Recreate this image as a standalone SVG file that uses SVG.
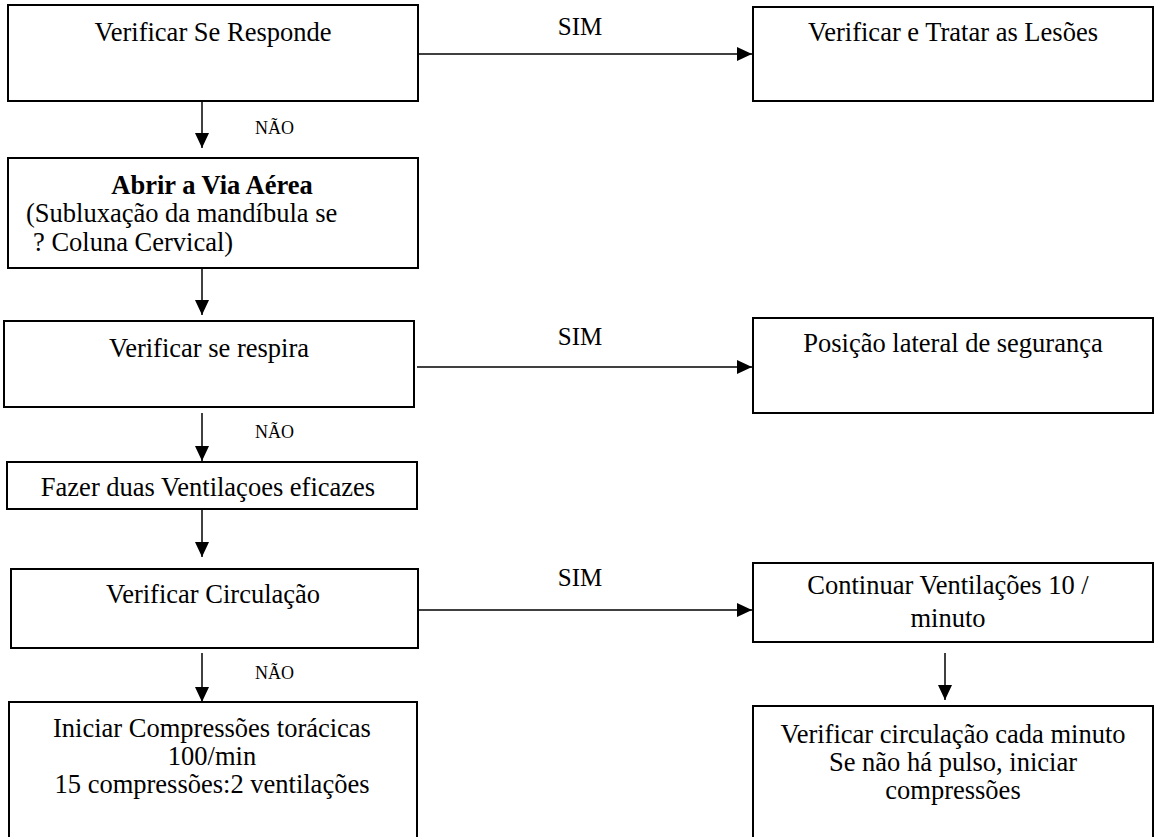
<svg xmlns="http://www.w3.org/2000/svg" width="1156" height="837" viewBox="0 0 1156 837">
<style>
  .box { fill: #ffffff; stroke: #000000; stroke-width: 2; }
  .t { font-family: "Liberation Serif", "Times New Roman", serif; font-size: 26.5px; fill: #000000; }
  .c { text-anchor: middle; }
  .b { font-weight: bold; }
  .lbl { font-family: "Liberation Serif", "Times New Roman", serif; font-size: 25px; fill: #000000; text-anchor: middle; }
  .no { font-family: "Liberation Serif", "Times New Roman", serif; font-size: 18px; fill: #000000; }
  .conn { stroke: #000000; stroke-width: 1.5; fill: none; marker-end: url(#arrow); }
</style>
<defs>
  <marker id="arrow" markerUnits="userSpaceOnUse" markerWidth="16" markerHeight="15" refX="15" refY="7" orient="auto">
    <path d="M0,0 L15,7 L0,14 z" fill="#000000"/>
  </marker>
</defs>
<rect x="0" y="0" width="1156" height="837" fill="#ffffff"/>

<g id="connectors">
  <line class="conn" x1="418" y1="54" x2="752" y2="54"/>
  <line class="conn" x1="202" y1="101" x2="202" y2="148"/>
  <line class="conn" x1="202" y1="268" x2="202" y2="315"/>
  <line class="conn" x1="417" y1="367" x2="752" y2="367"/>
  <line class="conn" x1="202" y1="413" x2="202" y2="461"/>
  <line class="conn" x1="202" y1="509" x2="202" y2="557"/>
  <line class="conn" x1="418" y1="610" x2="752" y2="610"/>
  <line class="conn" x1="202" y1="653" x2="202" y2="702"/>
  <line class="conn" x1="945" y1="653" x2="945" y2="700"/>
  <text class="lbl" x="580" y="35">SIM</text>
  <text class="lbl" x="580" y="345">SIM</text>
  <text class="lbl" x="580" y="586">SIM</text>
  <text class="no" x="255" y="134">NÃO</text>
  <text class="no" x="255" y="438">NÃO</text>
  <text class="no" x="255" y="679">NÃO</text>
</g>

<g id="node-responde">
  <rect class="box" x="8" y="5" width="410" height="96"/>
  <text class="t c" x="213" y="41">Verificar Se Responde</text>
</g>
<g id="node-lesoes">
  <rect class="box" x="753" y="7" width="400" height="94"/>
  <text class="t c" x="953" y="41">Verificar e Tratar as Lesões</text>
</g>
<g id="node-via-aerea">
  <rect class="box" x="8" y="158" width="410" height="110"/>
  <text class="t c b" x="212" y="194">Abrir a Via Aérea</text>
  <text class="t" x="26" y="222">(Subluxação da mandíbula se</text>
  <text class="t" x="33" y="251">? Coluna Cervical)</text>
</g>
<g id="node-respira">
  <rect class="box" x="4" y="321" width="410" height="86"/>
  <text class="t c" x="209" y="357">Verificar se respira</text>
</g>
<g id="node-lateral">
  <rect class="box" x="753" y="318" width="400" height="95"/>
  <text class="t c" x="953" y="352">Posição lateral de segurança</text>
</g>
<g id="node-ventilacoes">
  <rect class="box" x="7" y="462" width="410" height="47"/>
  <text class="t c" x="208" y="496">Fazer duas Ventilaçoes eficazes</text>
</g>
<g id="node-circulacao">
  <rect class="box" x="11" y="569" width="407" height="79"/>
  <text class="t c" x="213" y="603">Verificar Circulação</text>
</g>
<g id="node-continuar">
  <rect class="box" x="753" y="563" width="400" height="79"/>
  <text class="t c" x="948" y="594">Continuar Ventilações 10 /</text>
  <text class="t c" x="948" y="627">minuto</text>
</g>
<g id="node-compressoes">
  <rect class="box" x="9" y="702" width="408" height="150"/>
  <text class="t c" x="212" y="737">Iniciar Compressões torácicas</text>
  <text class="t c" x="212" y="765">100/min</text>
  <text class="t c" x="212" y="793">15 compressões:2 ventilações</text>
</g>
<g id="node-verificar-minuto">
  <rect class="box" x="753" y="706" width="400" height="150"/>
  <text class="t c" x="953" y="743">Verificar circulação cada minuto</text>
  <text class="t c" x="953" y="771">Se não há pulso, iniciar</text>
  <text class="t c" x="953" y="799">compressões</text>
</g>
</svg>
